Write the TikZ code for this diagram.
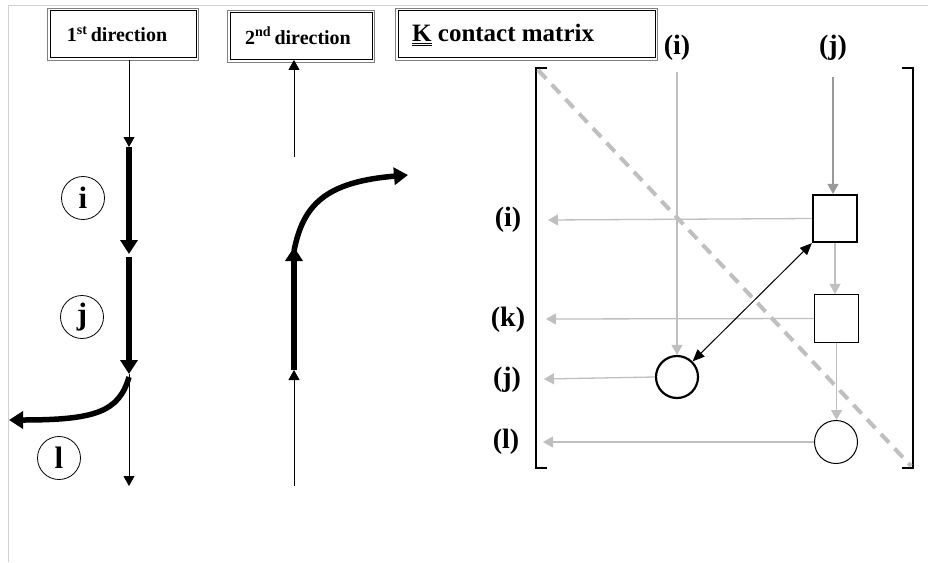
\documentclass[tikz,border=0pt]{standalone}
\usepackage{fontspec}
\setmainfont{Liberation Serif}
\usetikzlibrary{arrows.meta}
\definecolor{lgray}{HTML}{BFBFBF}
\definecolor{mgray}{HTML}{999999}
\definecolor{fgray}{HTML}{D0D0D0}
\begin{document}
\begin{tikzpicture}[x=1pt,y=-1pt,
  boxin/.style={draw=black, line width=0.9pt, inner sep=0pt, minimum height=47},
  boxtxt/.style={font=\bfseries\fontsize{20}{24}\selectfont, inner sep=0pt},
  lbl/.style={font=\bfseries\fontsize{28}{32}\selectfont, inner sep=0pt},
  circlbl/.style={circle, draw=black, line width=0.8pt, minimum size=43, inner sep=0pt, font=\bfseries\fontsize{31}{34}\selectfont},
  thinarr/.style={line width=0.8pt, -{Triangle[length=10pt,width=11pt]}},
  thickarr/.style={line width=5.5pt, -{Triangle[length=14pt,width=17pt]}},
  garr/.style={draw=lgray, line width=1.3pt, -{Triangle[length=10pt,width=11pt]}},
  darr/.style={draw=mgray, line width=1.3pt, -{Triangle[length=10pt,width=11pt]}},
]
\useasboundingbox (0,0) rectangle (928,562);
% frame
\draw[fgray, line width=1pt] (928,5) -- (8,5) -- (8,562);

% header boxes
\node[boxin, minimum width=146] (b1) at (123,34) {};
\draw[gray, line width=0.7pt] ([shift={(-2,-2)}]b1.north west) rectangle ([shift={(2,2)}]b1.south east);
\node[boxtxt] (t1) at (117,34) {1\textsuperscript{st}\,direction};

\node[boxin, minimum width=142] (b2) at (301,36) {};
\draw[gray, line width=0.7pt] ([shift={(-2,-2)}]b2.north west) rectangle ([shift={(2,2)}]b2.south east);
\node[boxtxt] (t2) at (298,36) {2\textsuperscript{nd}\,direction};

\node[boxin, minimum width=257] (b3) at (526.5,34) {};
\draw[gray, line width=0.7pt] ([shift={(-2,-2)}]b3.north west) rectangle ([shift={(2,2)}]b3.south east);
\node[boxtxt, anchor=west, font=\bfseries\fontsize{25}{28}\selectfont] (t3) at (412,35) {\underline{\underline{K}} contact matrix};

% first direction column
\coordinate (a0) at (129,60);
\coordinate (a1) at (129,147);
\coordinate (a2) at (129,254);
\coordinate (a3) at (129,257);
\coordinate (a4) at (129,374);
\coordinate (a5) at (129,486);
\coordinate (a6) at (129,377);
\coordinate (a7) at (9,420);
\draw[thinarr] (a0) -- (a1);
\draw[thickarr] (a1) -- (a2);
\draw[thickarr] (a3) -- (a4);
\draw[thinarr] (a4) -- (a5);
\draw[thickarr] (a6) .. controls (119,412) and (95,420) .. (a7);
\node[circlbl] (ci) at (83,198) {i};
\node[circlbl] (cj) at (82,317) {j};
\node[circlbl] (cl) at (59,458) {l};

% second direction column
\coordinate (s0) at (294,157);
\coordinate (s1) at (294,486);
\coordinate (s2) at (294,370);
\coordinate (s3) at (294,247);
\coordinate (s4) at (294,251);
\coordinate (s5) at (408,175);
\draw[thinarr] (s0) -- (b2.south -| s0);
\draw[thinarr] (s1) -- (s2);
\draw[thickarr] (s2) -- (s3);
\draw[thickarr] (s4) .. controls (303,205) and (325,182) .. (s5);

% matrix brackets
\draw[line width=2.8pt] (547,68) -- (536,68) -- (536,468) -- (547,468);
\draw[line width=2.8pt] (902,68) -- (913,68) -- (913,468) -- (902,468);
\draw[lgray, line width=4pt, dash pattern=on 12pt off 8pt] (538,70) -- (911,466);

% labels
\node[lbl] (ki) at (677,48) {(i)};
\node[lbl] (kj) at (833,48) {(j)};
\node[lbl] (ri) at (508,220) {(i)};
\node[lbl] (rk) at (508,320) {(k)};
\node[lbl] (rj) at (507,380) {(j)};
\node[lbl] (rl) at (506,442) {(l)};

% matrix elements
\node[draw=black, line width=2.2pt, minimum width=44, minimum height=47, inner sep=0pt] (sqi) at (835,218.5) {};
\node[draw=black, line width=1.1pt, minimum width=44, minimum height=48, inner sep=0pt] (sqk) at (836.5,318.5) {};
\node[circle, draw=black, line width=2.2pt, minimum size=42, inner sep=0pt] (crj) at (677,377) {};
\node[circle, draw=black, line width=1pt, minimum size=43, inner sep=0pt] (crl) at (836,442) {};

\coordinate (vi) at (677,72);
\coordinate (vj) at (833,77);
\coordinate (hi) at (548,220);
\coordinate (hk) at (546,319);
\coordinate (hj) at (544,379);
\coordinate (hl) at (543,442);

\draw[garr] (vi) -- (crj.north);
\draw[darr] (vj) -- (sqi.north -| vj);
\draw[garr] (sqi.west) -- (hi);
\draw[garr] (sqk.west) -- (hk);
\draw[garr] (crj.west) -- (hj);
\draw[garr] (crl.west) -- (hl);
\draw[garr] (sqi.south) -- (sqk.north -| sqi.south);
\draw[garr] (sqk.south) -- (crl.north -| sqk.south);
\draw[line width=1pt, {Triangle[length=12pt,width=10pt]}-{Triangle[length=12pt,width=10pt]}] (sqi.south west) -- (crj.north east);
\end{tikzpicture}
\end{document}
